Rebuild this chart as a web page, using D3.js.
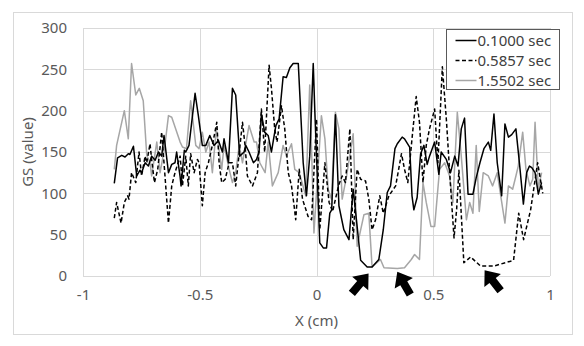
<!DOCTYPE html>
<html>
<head>
<meta charset="utf-8">
<script src="https://cdn.jsdelivr.net/npm/d3@7.9.0/dist/d3.min.js"></script>
<style>
  body { margin: 0; background: #fff; }
  svg { display: block; font-family: "Noto Sans", "Open Sans", sans-serif; }
</style>
</head>
<body>
<svg id="chart" width="584" height="346"></svg>
<script>
// series: [x (cm), GS value]
const s0100 = [
  [-0.866,112],[-0.852,143],[-0.834,146],[-0.82,144],[-0.806,148],[-0.799,147],[-0.784,157],
  [-0.77,121],[-0.756,128],[-0.749,125],[-0.734,137],[-0.72,133],[-0.706,145],[-0.691,140],
  [-0.677,150],[-0.663,145],[-0.653,170],[-0.634,125],[-0.62,135],[-0.606,137],[-0.599,150],
  [-0.584,120],[-0.58,109],[-0.566,152],[-0.56,150],[-0.546,158],[-0.52,221],[-0.506,194],
  [-0.489,158],[-0.474,158],[-0.457,170],[-0.439,158],[-0.42,164],[-0.403,150],[-0.396,166],
  [-0.377,137],[-0.36,227],[-0.346,219],[-0.329,145],[-0.31,150],[-0.303,158],[-0.289,150],
  [-0.27,137],[-0.257,141],[-0.246,150],[-0.236,196],[-0.222,174],[-0.207,170],[-0.193,150],
  [-0.186,162],[-0.174,182],[-0.16,190],[-0.143,241],[-0.129,240],[-0.114,252],[-0.1,257],
  [-0.078,257],[-0.057,137],[-0.043,97],[-0.029,145],[-0.014,257],[-0.007,198],[0.014,40],
  [0.029,34],[0.043,34],[0.057,76],[0.065,80],[0.081,195],[0.096,85],[0.117,56],[0.139,44],
  [0.157,105],[0.174,60],[0.189,19],[0.217,11],[0.238,11],[0.267,20],[0.286,56],[0.303,101],
  [0.317,109],[0.336,154],[0.346,160],[0.367,168],[0.377,166],[0.399,156],[0.409,97],
  [0.417,80],[0.431,95],[0.446,148],[0.46,158],[0.474,135],[0.484,145],[0.506,162],[0.524,123],
  [0.534,150],[0.556,141],[0.574,125],[0.592,145],[0.606,133],[0.62,178],[0.634,191],[0.649,99],
  [0.67,99],[0.684,119],[0.7,137],[0.717,154],[0.736,162],[0.746,152],[0.76,196],[0.774,137],
  [0.793,97],[0.807,184],[0.822,168],[0.836,171],[0.854,178],[0.869,137],[0.886,87],[0.9,125],
  [0.912,133],[0.922,131],[0.936,125],[0.95,99],[0.964,113]
];
const s0586 = [
  [-0.866,70],[-0.856,89],[-0.837,64],[-0.823,89],[-0.809,97],[-0.803,93],[-0.792,125],
  [-0.774,113],[-0.76,150],[-0.749,121],[-0.734,145],[-0.727,137],[-0.713,160],[-0.706,141],
  [-0.694,113],[-0.68,129],[-0.663,174],[-0.651,129],[-0.634,64],[-0.62,109],[-0.606,125],
  [-0.584,145],[-0.574,109],[-0.56,145],[-0.549,109],[-0.539,148],[-0.524,125],[-0.51,141],
  [-0.503,137],[-0.489,85],[-0.477,125],[-0.463,137],[-0.446,158],[-0.427,186],[-0.417,137],
  [-0.406,113],[-0.391,117],[-0.374,137],[-0.36,137],[-0.346,109],[-0.317,186],[-0.306,158],
  [-0.296,121],[-0.274,109],[-0.253,125],[-0.236,202],[-0.222,150],[-0.203,255],[-0.193,227],
  [-0.179,178],[-0.169,162],[-0.15,206],[-0.136,178],[-0.121,125],[-0.107,109],[-0.096,85],
  [-0.089,68],[-0.074,129],[-0.06,93],[-0.036,72],[-0.021,68],[0.0,190],[0.014,56],[0.036,137],
  [0.054,89],[0.069,78],[0.095,110],[0.11,121],[0.124,113],[0.143,178],[0.157,44],[0.174,129],
  [0.189,117],[0.21,115],[0.224,93],[0.238,56],[0.253,68],[0.271,97],[0.286,76],[0.31,97],
  [0.339,109],[0.364,148],[0.377,129],[0.391,113],[0.409,166],[0.427,217],[0.441,186],
  [0.456,113],[0.47,158],[0.484,178],[0.506,202],[0.52,137],[0.539,253],[0.556,190],[0.574,109],
  [0.589,46],[0.6,80],[0.61,128],[0.631,16],[0.66,23],[0.703,12],[0.759,12],[0.844,19],
  [0.866,76],[0.887,44],[0.917,80],[0.947,137],[0.969,100]
];
const s1550 = [
  [-0.866,129],[-0.856,158],[-0.823,200],[-0.806,166],[-0.792,257],[-0.774,219],[-0.759,227],
  [-0.742,212],[-0.727,146],[-0.713,137],[-0.706,121],[-0.684,162],[-0.67,125],[-0.651,154],
  [-0.634,194],[-0.62,192],[-0.584,162],[-0.574,156],[-0.557,154],[-0.539,212],[-0.517,158],
  [-0.503,154],[-0.489,174],[-0.474,150],[-0.46,162],[-0.446,125],[-0.429,178],[-0.414,145],
  [-0.406,129],[-0.396,158],[-0.374,129],[-0.36,113],[-0.346,125],[-0.331,158],[-0.317,137],
  [-0.289,182],[-0.267,162],[-0.257,162],[-0.243,137],[-0.22,125],[-0.207,162],[-0.189,109],
  [-0.164,125],[-0.143,158],[-0.129,145],[-0.107,160],[-0.093,129],[-0.074,125],[-0.046,97],
  [-0.029,231],[-0.011,52],[0.021,194],[0.036,166],[0.05,105],[0.064,93],[0.081,198],
  [0.096,178],[0.11,93],[0.129,121],[0.157,172],[0.174,36],[0.203,74],[0.224,76],[0.238,11],
  [0.274,20],[0.289,10],[0.346,9],[0.377,10],[0.406,20],[0.42,26],[0.441,20],[0.456,113],
  [0.47,89],[0.49,60],[0.506,60],[0.527,129],[0.549,137],[0.57,121],[0.584,89],[0.603,198],
  [0.62,145],[0.642,68],[0.656,89],[0.67,76],[0.684,158],[0.697,78],[0.714,125],[0.736,121],
  [0.754,109],[0.774,125],[0.789,97],[0.807,64],[0.822,109],[0.84,105],[0.854,121],[0.864,133],
  [0.883,174],[0.897,129],[0.914,109],[0.926,117],[0.936,186],[0.95,105],[0.964,125]
];

const seriesNames = ["0.1000 sec", "0.5857 sec", "1.5502 sec"];
const xTicks = [-1, -0.5, 0, 0.5, 1];
const yTicks = [0, 50, 100, 150, 200, 250, 300];
// annotation arrows: tip position in data units and rotation
const arrows = [
  { x: 0.223, y: 3, angle: 40 },
  { x: 0.346, y: 5, angle: -30 },
  { x: 0.72, y: 7, angle: -38 }
];

const svg = d3.select("#chart");
const margin = { top: 28, right: 34, bottom: 70, left: 83 };
const width = 584 - margin.left - margin.right;
const height = 346 - margin.top - margin.bottom;
const fontSize = "15px";

// chart frame
svg.append("rect")
  .attr("x", 13.5).attr("y", 12.5)
  .attr("width", 559).attr("height", 322)
  .attr("fill", "#fff").attr("stroke", "#d9d9d9");

const g = svg.append("g").attr("transform", `translate(${margin.left},${margin.top})`);

const xScale = d3.scaleLinear().domain([-1, 1]).range([0, width]);
const yScale = d3.scaleLinear().domain([0, 300]).range([height, 0]);

// gridlines
g.append("g")
  .selectAll("line")
  .data(yTicks)
  .enter().append("line")
    .attr("x1", 0).attr("x2", width)
    .attr("y1", d => Math.round(yScale(d)) + 0.5)
    .attr("y2", d => Math.round(yScale(d)) + 0.5)
    .attr("stroke", "#d9d9d9");
g.append("g")
  .selectAll("line")
  .data(xTicks)
  .enter().append("line")
    .attr("x1", d => Math.round(xScale(d)) + 0.5)
    .attr("x2", d => Math.round(xScale(d)) + 0.5)
    .attr("y1", 0).attr("y2", height)
    .attr("stroke", "#d9d9d9");

// axes (labels only)
const xAxis = g.append("g")
  .attr("transform", `translate(0,${height})`)
  .call(d3.axisBottom(xScale).tickValues(xTicks).tickSize(0).tickPadding(13).tickFormat(d3.format("")));
const yAxis = g.append("g")
  .call(d3.axisLeft(yScale).tickValues(yTicks).tickSize(0).tickPadding(16));
[xAxis, yAxis].forEach(a => {
  a.select(".domain").remove();
  a.selectAll("text")
    .attr("fill", "#595959")
    .attr("font-size", fontSize)
    .attr("font-family", "Noto Sans, sans-serif");
});
xAxis.selectAll("text").text(d => String(d).replace("\u2212", "-"));

// axis titles
g.append("text")
  .attr("text-anchor", "middle")
  .attr("x", xScale(0))
  .attr("y", height + 50)
  .attr("fill", "#595959")
  .attr("font-size", fontSize)
  .text("X (cm)");
g.append("text")
  .attr("text-anchor", "middle")
  .attr("transform", "rotate(-90)")
  .attr("x", -height / 2)
  .attr("y", -margin.left + 33)
  .attr("fill", "#595959")
  .attr("font-size", fontSize)
  .text("GS (value)");

const line = d3.line().x(d => xScale(d[0])).y(d => yScale(d[1]));

const styles = [
  { data: s0100, color: "#000", dash: null },
  { data: s0586, color: "#000", dash: "4,2.5" },
  { data: s1550, color: "#a6a6a6", dash: null }
];

// draw grey first so black sits on top
[styles[2], styles[1], styles[0]].forEach(s => {
  g.append("path")
    .datum(s.data)
    .attr("fill", "none")
    .attr("stroke", s.color)
    .attr("stroke-width", 1.5)
    .attr("stroke-linejoin", "round")
    .attr("stroke-dasharray", s.dash)
    .attr("d", line);
});

// arrows
const arrowPath = "M0,0 L10.5,13 L4,13 L4,26 L-4,26 L-4,13 L-10.5,13 Z";
g.selectAll(".arrow")
  .data(arrows)
  .enter().append("path")
    .attr("class", "arrow")
    .attr("d", arrowPath)
    .attr("fill", "#000")
    .attr("transform", d => `translate(${xScale(d.x)},${yScale(d.y)}) rotate(${d.angle})`);

// legend
const legend = svg.append("g").attr("transform", "translate(446.5,29.5)");
legend.append("rect")
  .attr("width", 113).attr("height", 60)
  .attr("fill", "#fff")
  .attr("stroke", "#595959");
styles.forEach((s, i) => {
  const row = legend.append("g").attr("transform", `translate(0, ${11 + i * 20})`);
  row.append("line")
    .attr("x1", 9).attr("x2", 30)
    .attr("stroke", s.color)
    .attr("stroke-width", 1.5)
    .attr("stroke-dasharray", s.dash);
  row.append("text")
    .attr("x", 31)
    .attr("y", 5)
    .attr("font-size", fontSize)
    .attr("fill", "#404040")
    .text(seriesNames[i]);
});
</script>
</body>
</html>
